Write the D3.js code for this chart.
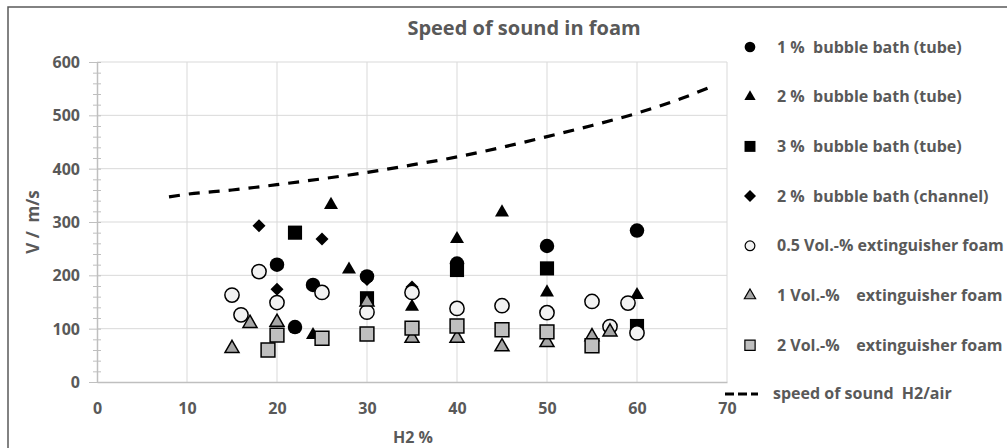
<!DOCTYPE html>
<html>
<head>
<meta charset="utf-8">
<script src="https://cdnjs.cloudflare.com/ajax/libs/d3/7.8.5/d3.min.js"></script>
<style>
  body { margin: 0; background: #fff; }
  text { font-family: "Open Sans", Lato, sans-serif; font-weight: 700; fill: #595959; }
</style>
</head>
<body>
<svg id="chart" width="1007" height="448"></svg>
<script>
// ---------------- data ----------------
var seriesNames = ["1 %  bubble bath (tube)", "2 %  bubble bath (tube)", "3 %  bubble bath (tube)",
                   "2 %  bubble bath (channel)", "0.5 Vol.-% extinguisher foam",
                   "1 Vol.-%    extinguisher foam", "2 Vol.-%    extinguisher foam"];

var bath1Tube    = [[20, 220], [22, 103], [24, 182], [30, 198], [40, 222], [50, 255], [60, 284]];
var bath2Tube    = [[24, 88], [26, 332], [28, 211], [35, 141], [40, 268], [45, 318], [50, 168], [60, 163]];
var bath3Tube    = [[22, 280], [30, 157], [40, 210], [50, 213], [60, 105]];
var bath2Channel = [[18, 293], [20, 174], [25, 268], [30, 192], [35, 178]];
var foam05       = [[15, 163], [16, 126], [18, 207], [20, 149], [25, 168], [30, 131], [35, 168], [40, 138],
                    [45, 143], [50, 130], [55, 151], [57, 104], [59, 148], [60, 92]];
var foam1        = [[15, 63], [17, 110], [20, 112], [30, 150], [35, 82], [40, 82], [45, 66], [50, 74],
                    [55, 85], [57, 94]];
var foam2        = [[19, 60], [20, 88], [25, 82], [30, 90], [35, 101], [40, 105], [45, 98], [50, 94], [55, 68]];

var soundH2Air   = [[8, 347], [10, 352], [15, 360], [20, 370], [25, 381], [30, 393], [35, 407], [40, 422],
                    [45, 440], [50, 460], [55, 481], [60, 504], [65, 532], [68, 552]];

var xTicks = [0, 10, 20, 30, 40, 50, 60, 70];
var yTicks = [0, 100, 200, 300, 400, 500, 600];

// ---------------- layout ----------------
var svg = d3.select('#chart');
var x = d3.scaleLinear().domain([0, 70]).range([97, 727]);
var y = d3.scaleLinear().domain([0, 600]).range([382, 62]);

// outer frame
svg.append('rect')
    .attr('x', 8).attr('y', 7)
    .attr('width', 1100).attr('height', 500)
    .attr('fill', 'none')
    .attr('stroke', '#595959')
    .attr('stroke-width', 1.5);

// gridlines
svg.append('g')
    .selectAll('line.v')
    .data(xTicks.slice(1))
    .enter().append('line')
        .attr('x1', d => x(d)).attr('x2', d => x(d))
        .attr('y1', y(0)).attr('y2', y(600))
        .attr('stroke', '#d9d9d9').attr('stroke-width', 1);

svg.append('g')
    .selectAll('line.h')
    .data(yTicks.slice(1))
    .enter().append('line')
        .attr('x1', x(0)).attr('x2', x(70))
        .attr('y1', d => y(d)).attr('y2', d => y(d))
        .attr('stroke', '#d9d9d9').attr('stroke-width', 1);

// y axis with cross ticks (major and minor)
var yAxis = svg.append('g').attr('transform', `translate(${x(0)},0)`);
yAxis.call(d3.axisLeft(y).tickValues(d3.range(0, 601, 20)).tickSize(0).tickFormat(''));
yAxis.select('.domain').attr('stroke', '#bfbfbf').attr('stroke-width', 1.5);
yAxis.selectAll('.tick line').remove();
yAxis.selectAll('.tick')
    .append('line')
        .attr('x1', d => d % 100 === 0 ? -8 : -4)
        .attr('x2', 4)
        .attr('stroke', '#bfbfbf').attr('stroke-width', 1);

yAxis.selectAll('.tick').filter(d => d % 100 === 0)
    .append('text')
        .attr('x', -17)
        .attr('dy', '0.35em')
        .attr('text-anchor', 'end')
        .style('font-size', '16px')
        .text(d => d);

// x axis
var xAxis = svg.append('g').attr('transform', `translate(0,${y(0)})`);
xAxis.call(d3.axisBottom(x).tickValues(xTicks).tickSize(0).tickFormat(''));
xAxis.select('.domain').attr('stroke', '#bfbfbf').attr('stroke-width', 1.5);
xAxis.selectAll('.tick')
    .append('text')
        .attr('y', 26)
        .attr('dy', '0.35em')
        .attr('text-anchor', 'middle')
        .style('font-size', '16px')
        .text(d => d);

// titles
svg.append('text')
    .attr('x', 524).attr('y', 28).attr('dy', '0.35em')
    .attr('text-anchor', 'middle')
    .style('font-size', '20px')
    .text('Speed of sound in foam');

svg.append('text')
    .attr('x', 393).attr('y', 437).attr('dy', '0.35em')
    .style('font-size', '16px')
    .text('H2 %');

svg.append('text')
    .attr('transform', 'translate(33,222) rotate(-90)')
    .attr('dy', '0.35em')
    .attr('text-anchor', 'middle')
    .style('font-size', '17px')
    .style('white-space', 'pre')
    .text('V /  m/s');

// ---------------- markers ----------------
function diamond(s) {
    return `M0,${-s}L${s},0L0,${s}L${-s},0Z`;
}

var styles = [
    {data: bath1Tube,    path: d3.symbol(d3.symbolCircle, 165)(),   legend: d3.symbol(d3.symbolCircle, 90)(),   fill: '#000',    stroke: 'none'},
    {data: bath2Tube,    path: d3.symbol(d3.symbolTriangle, 85)(),  legend: d3.symbol(d3.symbolTriangle, 55)(), fill: '#000',    stroke: 'none'},
    {data: bath3Tube,    path: d3.symbol(d3.symbolSquare, 200)(),   legend: d3.symbol(d3.symbolSquare, 120)(),  fill: '#000',    stroke: 'none'},
    {data: bath2Channel, path: diamond(6.5),                        legend: diamond(6),                         fill: '#000',    stroke: 'none'},
    {data: foam05,       path: d3.symbol(d3.symbolCircle, 160)(),   legend: d3.symbol(d3.symbolCircle, 75)(),   fill: '#f2f2f2', stroke: '#000'},
    {data: foam1,        path: d3.symbol(d3.symbolTriangle, 85)(),  legend: d3.symbol(d3.symbolTriangle, 55)(), fill: '#a6a6a6', stroke: '#000'},
    {data: foam2,        path: d3.symbol(d3.symbolSquare, 190)(),   legend: d3.symbol(d3.symbolSquare, 105)(),  fill: '#bfbfbf', stroke: '#000'}
];

styles.forEach(function(s) {
    svg.append('g')
        .selectAll('path')
        .data(s.data)
        .enter().append('path')
            .attr('transform', d => `translate(${x(d[0])},${y(d[1])})`)
            .attr('d', s.path)
            .attr('fill', s.fill)
            .attr('stroke', s.stroke)
            .attr('stroke-width', 1.5);
});

// dashed theory curve
var line = d3.line()
    .x(d => x(d[0]))
    .y(d => y(d[1]))
    .curve(d3.curveMonotoneX);

svg.append('path')
    .datum(soundH2Air)
    .attr('d', line)
    .attr('fill', 'none')
    .attr('stroke', '#000')
    .attr('stroke-width', 3.2)
    .attr('stroke-dasharray', '11,9');

// ---------------- legend ----------------
var legend = svg.append('g');
styles.forEach(function(s, i) {
    var ly = 47 + i * 49.7;
    legend.append('path')
        .attr('transform', `translate(750,${ly})`)
        .attr('d', s.legend)
        .attr('fill', s.fill)
        .attr('stroke', s.stroke)
        .attr('stroke-width', 1.2);
    legend.append('text')
        .attr('x', 777).attr('y', ly).attr('dy', '0.35em')
        .style('font-size', '16px')
        .style('white-space', 'pre')
        .text(seriesNames[i]);
});

legend.append('line')
    .attr('x1', 725).attr('x2', 758)
    .attr('y1', 394).attr('y2', 394)
    .attr('stroke', '#000').attr('stroke-width', 3)
    .attr('stroke-dasharray', '9,4');
legend.append('text')
    .attr('x', 773).attr('y', 394).attr('dy', '0.3em')
    .style('font-size', '16px')
    .style('white-space', 'pre')
    .text('speed of sound  H2/air');
</script>
</body>
</html>
